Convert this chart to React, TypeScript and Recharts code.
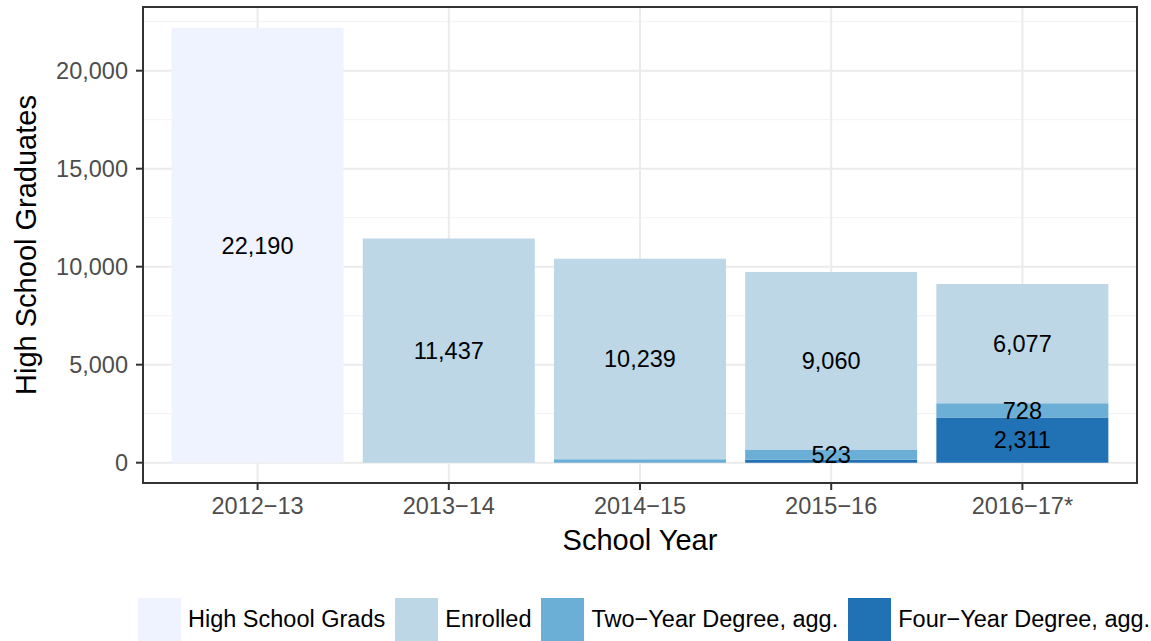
import { BarChart, Bar, XAxis, YAxis, CartesianGrid, LabelList, Customized } from "recharts";

const years = ["2012\u221213", "2013\u221214", "2014\u221215", "2015\u221216", "2016\u221217*"];
const fourYear = [null, null, null, 150, 2311];
const twoYear = [null, null, 170, 523, 728];
const enrolled = [null, 11437, 10239, 9060, 6077];
const hsGrads = [22190, null, null, null, null];

const yTicks = [0, 5000, 10000, 15000, 20000];
const minorTicks = [2500, 7500, 12500, 17500, 22500];

const series = [
  { key: "hsGrads", name: "High School Grads", color: "#eff3ff" },
  { key: "enrolled", name: "Enrolled", color: "#bdd7e7" },
  { key: "twoYear", name: "Two\u2212Year Degree, agg.", color: "#6baed6" },
  { key: "fourYear", name: "Four\u2212Year Degree, agg.", color: "#2171b5" },
];

const data = years.map((year, i) => ({
  year,
  fourYear: fourYear[i],
  twoYear: twoYear[i],
  enrolled: enrolled[i],
  hsGrads: hsGrads[i],
}));

const FONT = "'Liberation Sans', Arial, Helvetica, sans-serif";
const fmt = (v: number) => v.toLocaleString("en-US");

const W = 1151;
const H = 641;
const plot = { left: 143, top: 7, right: 1137, bottom: 483 };
const TXT = 23.5;
const TITLE = 29;

const labelFmt = (v: any) => (v == null || v < 500 ? "" : fmt(v));

function PanelBorder() {
  return (
    <rect
      x={plot.left}
      y={plot.top}
      width={plot.right - plot.left}
      height={plot.bottom - plot.top}
      fill="none"
      stroke="#333333"
      strokeWidth={2}
    />
  );
}

function App() {
  const stackOrder = [...series].reverse();
  return (
    <div style={{ position: "absolute", left: 0, top: 0, width: W, height: H, fontFamily: FONT, background: "#fff" }}>
      <BarChart
        width={W}
        height={H}
        data={data}
        margin={{ top: plot.top, right: W - plot.right, left: 0, bottom: 108 }}
        barCategoryGap="5%"
      >
        <CartesianGrid
          stroke="#f2f2f2"
          strokeWidth={1}
          vertical={false}
          horizontalValues={minorTicks}
        />
        <CartesianGrid stroke="#ebebeb" strokeWidth={2} horizontalValues={yTicks} />
        <XAxis
          dataKey="year"
          height={50}
          padding={{ left: 19, right: 19 }}
          axisLine={false}
          tickLine={{ stroke: "#333333", strokeWidth: 2 }}
          tickSize={7}
          tickMargin={7}
          tick={{ fill: "#4d4d4d", fontSize: TXT, fontFamily: FONT }}
          label={{
            content: () => (
              <text x={640} y={550} textAnchor="middle" fontSize={TITLE} fontFamily={FONT} fill="#000">
                School Year
              </text>
            ),
          }}
        />
        <YAxis
          width={143}
          domain={[-1036, 23250]}
          allowDataOverflow
          ticks={yTicks}
          tickFormatter={fmt}
          axisLine={false}
          tickLine={{ stroke: "#333333", strokeWidth: 2 }}
          tickSize={7}
          tickMargin={8}
          tick={{ fill: "#4d4d4d", fontSize: TXT, fontFamily: FONT }}
          label={{
            content: () => (
              <text
                x={26}
                y={245}
                transform="rotate(-90 26 245)"
                textAnchor="middle"
                dominantBaseline="central"
                fontSize={TITLE}
                fontFamily={FONT}
                fill="#000"
              >
                High School Graduates
              </text>
            ),
          }}
        />
        {stackOrder.map((s) => (
          <Bar key={s.key} dataKey={s.key} name={s.name} stackId="a" fill={s.color} isAnimationActive={false}>
            <LabelList
              dataKey={s.key}
              position="center"
              formatter={labelFmt}
              fill="#000"
              fontSize={TXT}
              fontFamily={FONT}
            />
          </Bar>
        ))}
        <Customized component={PanelBorder} />
      </BarChart>
      <div
        style={{
          position: "absolute",
          left: 138,
          top: 598,
          display: "flex",
          alignItems: "center",
          whiteSpace: "nowrap",
          fontSize: TXT,
          color: "#000",
        }}
      >
        {series.map((s) => (
          <div key={s.key} style={{ display: "flex", alignItems: "center", marginRight: 10 }}>
            <div style={{ width: 43, height: 43, background: s.color, marginRight: 7 }} />
            <span>{s.name}</span>
          </div>
        ))}
      </div>
    </div>
  );
}

export default App;
